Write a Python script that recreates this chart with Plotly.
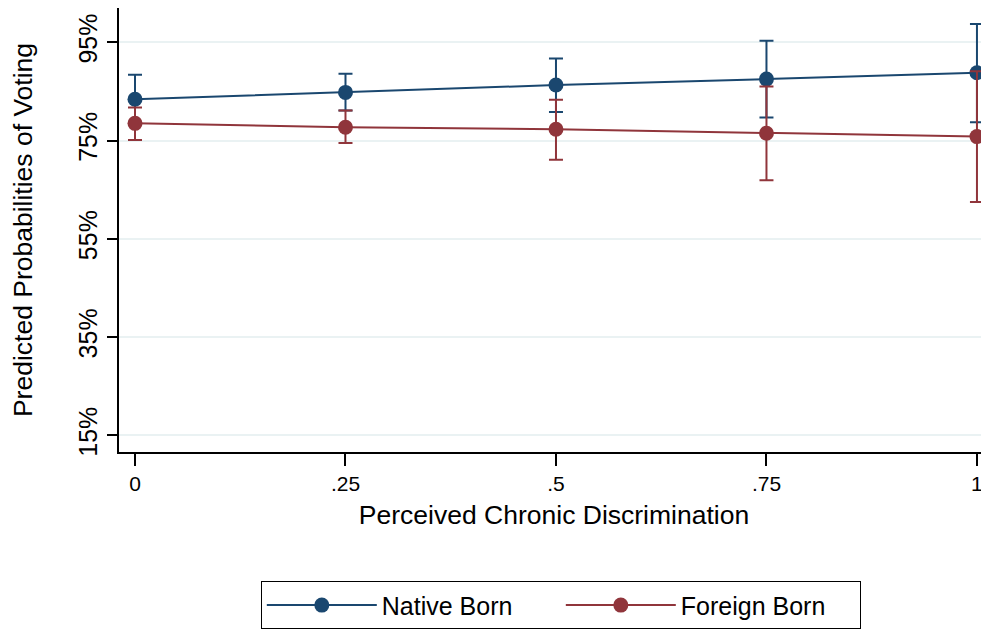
import plotly.graph_objects as go

x_vals = [0, 0.25, 0.5, 0.75, 1]
x_labels = ["0", ".25", ".5", ".75", "1"]

native_mean = [83.4, 84.8, 86.3, 87.5, 88.8]
native_low = [78.4, 81.1, 80.8, 79.7, 78.7]
native_high = [88.4, 88.6, 91.7, 95.3, 98.7]

foreign_mean = [78.5, 77.7, 77.3, 76.5, 75.8]
foreign_low = [75.1, 74.5, 71.1, 66.9, 62.5]
foreign_high = [81.7, 81.1, 83.3, 86.0, 89.1]

y_ticks = [15, 35, 55, 75, 95]
y_labels = ["15%", "35%", "55%", "75%", "95%"]

NAVY = "#1a476f"
MAROON = "#90353b"
FONT = "Liberation Sans, Arial, sans-serif"


def trace(name, mean, low, high, color):
    return go.Scatter(
        x=x_vals, y=mean, name=name, mode="lines+markers", cliponaxis=False,
        line=dict(color=color, width=2),
        marker=dict(color=color, size=15),
        error_y=dict(type="data", symmetric=False,
                     array=[h - m for h, m in zip(high, mean)],
                     arrayminus=[m - l for m, l in zip(mean, low)],
                     color=color, thickness=2, width=7),
    )


fig = go.Figure()
fig.add_trace(trace("Native Born", native_mean, native_low, native_high, NAVY))
fig.add_trace(trace("Foreign Born", foreign_mean, foreign_low, foreign_high, MAROON))

# page body adds an 8px margin, so the figure is 981x621
fig.update_layout(
    width=981, height=621,
    margin=dict(l=111, r=0, t=0, b=176.5, autoexpand=False),
    paper_bgcolor="white", plot_bgcolor="white",
    font=dict(family=FONT, color="black", size=20),
    legend=dict(orientation="h", x=0.163, xanchor="left", y=-0.2913, yanchor="top",
                bordercolor="black", borderwidth=1, bgcolor="white",
                font=dict(size=25, family=FONT), itemwidth=110, entrywidth=174,
                traceorder="normal"),
)
fig.update_xaxes(
    range=[-0.019, 1.0143], tickvals=x_vals, ticktext=x_labels, automargin=False,
    showgrid=False, zeroline=False, showline=True, linecolor="black", linewidth=1.5,
    ticks="outside", ticklen=12, tickcolor="black", tickwidth=1.5,
    tickfont=dict(size=21),
    title=dict(text="Perceived Chronic Discrimination", font=dict(size=26.5), standoff=11),
)
fig.update_yaxes(
    range=[11.63, 101.97], tickvals=y_ticks, ticktext=y_labels, tickangle=-90,
    automargin=False,
    showgrid=True, gridcolor="#eaf2f3", gridwidth=1.5, zeroline=False,
    showline=True, linecolor="black", linewidth=1.5,
    ticks="outside", ticklen=10, tickcolor="black", tickwidth=1.5,
    tickfont=dict(size=25),
    title=dict(text="Predicted Probabilities of Voting", font=dict(size=26.5), standoff=34),
)

fig.write_html("out.html")
